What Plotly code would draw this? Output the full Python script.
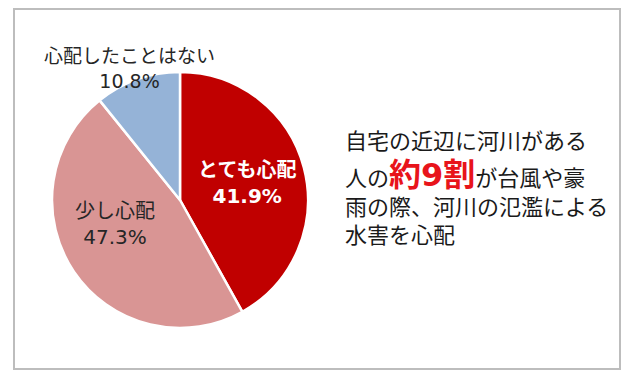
import plotly.graph_objects as go

labels = ["とても心配", "少し心配", "心配したことはない"]
values = [41.9, 47.3, 10.8]
colors = ["#C00000", "#D99594", "#95B3D7"]
headline = ["自宅の近辺に河川がある", "人の", "約9割", "が台風や豪", "雨の際、河川の氾濫による", "水害を心配"]

W, H = 634, 378
OFF = 8  # page body margin offset
FONT = "DejaVu Sans, Noto Sans CJK JP"

def px(x):
    return (x - OFF) / W

def py(y):
    return 1 - (y - OFF) / H

fig = go.Figure()
fig.add_trace(go.Pie(
    labels=labels,
    values=values,
    sort=False,
    direction="clockwise",
    rotation=0,
    marker=dict(colors=colors, line=dict(color="white", width=2.5)),
    textinfo="none",
    hoverinfo="label+percent",
    showlegend=False,
    domain=dict(x=[px(52), px(308)], y=[py(328), py(72)]),
))

ann = []
# slice labels: (x center, y center, colour, bold, size)
label_pos = [(247, 183, "white", True, 20), (115, 224, "#262626", False, 20), (129, 68, "#262626", False, 19)]
for lab, val, (x, y, col, bold, sz) in zip(labels, values, label_pos):
    t = f"{lab}<br>{val:.1f}%"
    if bold:
        t = f"<b>{t}</b>"
    ann.append(dict(x=px(x), y=py(y), xref="paper", yref="paper", text=t, showarrow=False,
                    font=dict(family=FONT, size=sz, color=col), xanchor="center", yanchor="middle"))

# headline text
line2 = (f"{headline[1]}<span style='color:#E8141B;font-size:32px'><b>{headline[2]}</b></span>"
         f"{headline[3]}")
lines = [(headline[0], 141), (line2, 175), (headline[4], 207), (headline[5], 235)]
for txt, y in lines:
    ann.append(dict(x=px(343), y=py(y), xref="paper", yref="paper", text=txt, showarrow=False,
                    font=dict(family=FONT, size=22, color="#1a1a1a"), xanchor="left", yanchor="middle"))

fig.update_layout(
    width=W, height=H,
    margin=dict(l=0, r=0, t=0, b=0),
    paper_bgcolor="white",
    plot_bgcolor="white",
    annotations=ann,
    shapes=[dict(type="rect", xref="paper", yref="paper",
                 x0=px(14), x1=px(620), y0=py(369), y1=py(9),
                 line=dict(color="#BDBDBD", width=2))],
)

fig.write_html("out.html")
